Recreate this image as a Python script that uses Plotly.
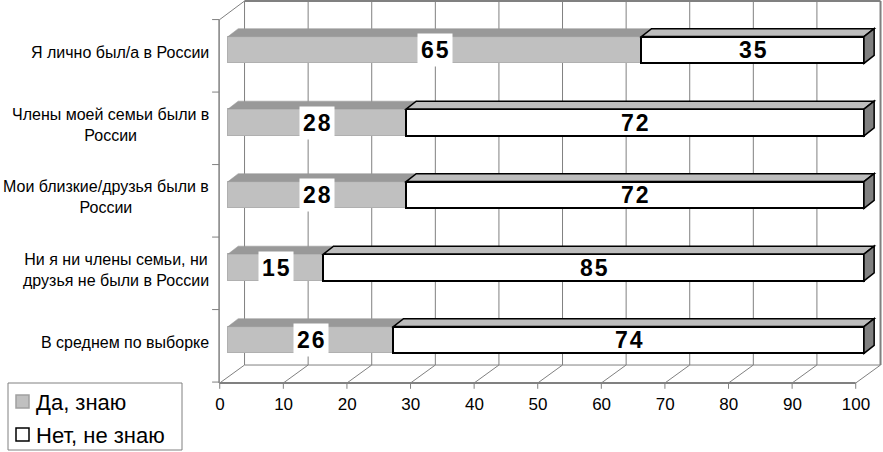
import plotly.graph_objects as go

categories = [
    "Я лично был/а в России",
    "Члены моей семьи были в<br>России",
    "Мои близкие/друзья были в<br>России",
    "Ни я ни члены семьи, ни<br>друзья не были в России",
    "В среднем по выборке",
]
yes_values = [65, 28, 28, 15, 26]
no_values = [35, 72, 72, 85, 74]
x_ticks = [0, 10, 20, 30, 40, 50, 60, 70, 80, 90, 100]
series_names = ["Да, знаю", "Нет, не знаю"]

FONT = "Liberation Sans, Arial, sans-serif"
GRAY = "#c0c0c0"
WALL = "#808080"

W, H = 883, 452
L, B = 208, 60
PW, PH = W - L, H - B

rows = list(range(len(categories)))
bar_w = 0.37
h = bar_w / 2
dx, dy = 1.6, 0.11          # bar depth (3d effect) in axis units
fx, bx = -1.3, 2.6          # front / back plane offsets for the axis box
y_top, y_wall, y_front = -0.676, 4.345, 4.593


def px_x(p):
    return (p - L) / PW


def px_y(p):
    return 1 - p / PH


fig = go.Figure()
fig.add_trace(go.Bar(
    y=rows, x=yes_values, orientation="h", name=series_names[0], width=bar_w,
    marker=dict(color=GRAY, line=dict(color="#b0b0b0", width=1)),
))
fig.add_trace(go.Bar(
    y=rows, x=no_values, base=yes_values, orientation="h", name=series_names[1], width=bar_w,
    marker=dict(color="white", line=dict(color="black", width=2)),
))

shapes = []
# back wall, grid and floor
for t in x_ticks:
    shapes.append(dict(type="line", xref="x", yref="y", x0=t + bx, x1=t + bx, y0=y_top, y1=y_wall,
                       line=dict(color=WALL, width=1), layer="below"))
    shapes.append(dict(type="line", xref="x", yref="y", x0=t + fx, x1=t + bx, y0=y_front, y1=y_wall,
                       line=dict(color=WALL, width=1), layer="below"))
    shapes.append(dict(type="line", xref="x", yref="y", x0=t + fx, x1=t + fx, y0=y_front, y1=y_front + 0.08,
                       line=dict(color=WALL, width=1), layer="below"))
shapes.append(dict(type="line", xref="x", yref="y", x0=bx, x1=100 + bx, y0=y_top, y1=y_top,
                   line=dict(color=WALL, width=2), layer="below"))
shapes.append(dict(type="line", xref="x", yref="y", x0=100 + bx, x1=100 + bx, y0=y_top, y1=y_wall,
                   line=dict(color=WALL, width=2), layer="below"))
shapes.append(dict(type="line", xref="x", yref="y", x0=bx, x1=100 + bx, y0=y_wall, y1=y_wall,
                   line=dict(color=WALL, width=1), layer="below"))
shapes.append(dict(type="line", xref="x", yref="y", x0=fx, x1=100 + fx, y0=y_front, y1=y_front,
                   line=dict(color=WALL, width=2), layer="below"))
shapes.append(dict(type="line", xref="x", yref="y", x0=fx - 0.1, x1=fx - 0.1, y0=-0.414, y1=y_front,
                   line=dict(color=WALL, width=1.5), layer="below"))
shapes.append(dict(type="line", xref="x", yref="y", x0=fx - 0.1, x1=bx, y0=-0.414, y1=y_top,
                   line=dict(color=WALL, width=1), layer="below"))
for k in range(len(categories) + 1):
    yk = k - 0.5 + 0.08
    shapes.append(dict(type="line", xref="x", yref="y", x0=fx - 1.2, x1=fx - 0.1, y0=yk, y1=yk,
                       line=dict(color=WALL, width=1), layer="below"))

# 3d faces of the bars
for k in rows:
    a, b = yes_values[k], yes_values[k] + no_values[k]
    shapes.append(dict(type="path", xref="x", yref="y", layer="above",
                       path=f"M{0},{k-h} L{dx},{k-h-dy} L{a+dx},{k-h-dy} L{a},{k-h} Z",
                       fillcolor="#999999", line=dict(color="#999999", width=0.5)))
    shapes.append(dict(type="path", xref="x", yref="y", layer="above",
                       path=f"M{a},{k-h} L{a+dx},{k-h-dy} L{b+dx},{k-h-dy} L{b},{k-h} Z",
                       fillcolor="#bdbdbd", line=dict(color="black", width=1.5)))
    shapes.append(dict(type="path", xref="x", yref="y", layer="above",
                       path=f"M{b},{k-h} L{b+dx},{k-h-dy} L{b+dx},{k+h-dy} L{b},{k+h} Z",
                       fillcolor="#808080", line=dict(color="black", width=1.5)))

annotations = []
for k in rows:
    # value labels: white box on the grey part, plain text on the white part
    for mid, val, bg in [(yes_values[k] / 2, yes_values[k], "white"),
                         (yes_values[k] + no_values[k] / 2, no_values[k], None)]:
        annotations.append(dict(x=mid, y=k, xref="x", yref="y",
                                text="<b>" + "\u200a".join(str(val)) + "</b>", showarrow=False,
                                font=dict(family=FONT, size=23, color="black"),
                                bgcolor=bg, borderpad=3))
    annotations.append(dict(x=px_x(211), y=k + 0.03, xref="paper", yref="y", text=categories[k],
                            showarrow=False, xanchor="right", align="center",
                            font=dict(family=FONT, size=16, color="black")))

# legend box drawn by hand (Excel style)
shapes.append(dict(type="rect", xref="paper", yref="paper", x0=px_x(8), x1=px_x(182),
                   y0=px_y(383), y1=px_y(450), line=dict(color=WALL, width=1), fillcolor="white"))
legend_colors = [(GRAY, "#a0a0a0"), ("white", "black")]
legend_rows = [402, 435]
for name, (fill, edge), py in zip(series_names, legend_colors, legend_rows):
    shapes.append(dict(type="rect", xref="paper", yref="paper", x0=px_x(16), x1=px_x(29),
                       y0=px_y(py + 6), y1=px_y(py - 7), fillcolor=fill, line=dict(color=edge, width=1.5)))
    annotations.append(dict(x=px_x(34), y=px_y(py), xref="paper", yref="paper", text=name,
                            showarrow=False, xanchor="left", yanchor="middle",
                            font=dict(family=FONT, size=22, color="black")))

fig.update_layout(
    width=W, height=H,
    margin=dict(l=L, r=0, t=0, b=B, autoexpand=False),
    plot_bgcolor="white", paper_bgcolor="white",
    barmode="stack", bargap=0,
    font=dict(family=FONT, size=16, color="black"),
    shapes=shapes, annotations=annotations,
    xaxis=dict(range=[-3.145, 102.99], tickvals=x_ticks, showgrid=False, zeroline=False,
               showline=False, ticks="", ticklabelshift=-8, ticklabelstandoff=0,
               tickfont=dict(size=17), automargin=False),
    yaxis=dict(range=[4.717, -0.690], showticklabels=False, showgrid=False, zeroline=False,
               showline=False, ticks="", automargin=False),
    showlegend=False,
)

# the page's default body margin would shift the fixed-size figure by 8px
fig.write_html("out.html", config={"displayModeBar": False},
               post_script="document.body.style.margin='0';")
